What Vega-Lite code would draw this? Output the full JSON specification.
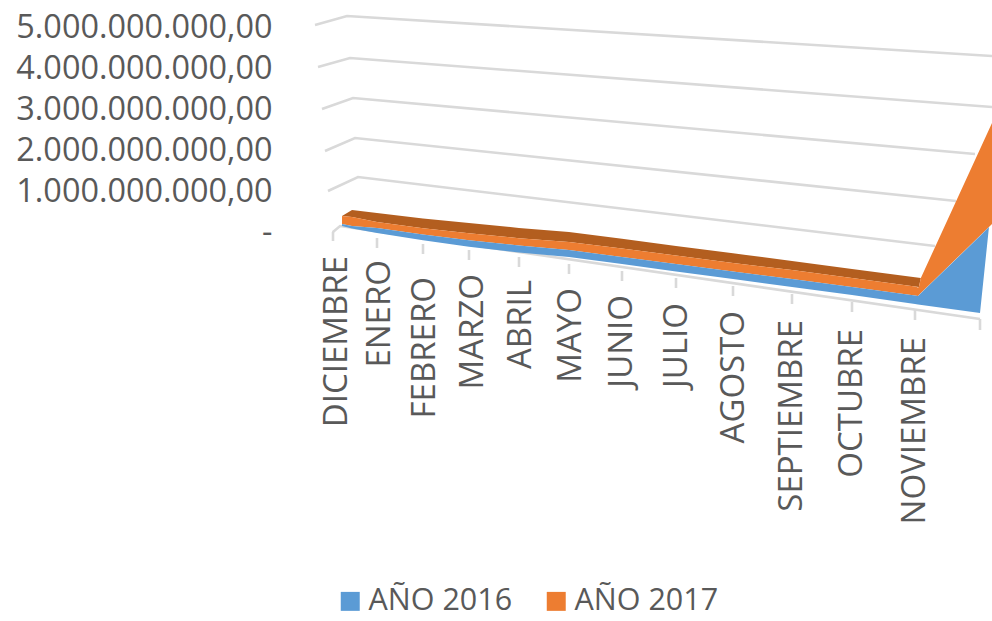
{
"$schema":"https://vega.github.io/schema/vega-lite/v6.json",
"width":712,"height":621,
"autosize":{"type":"none"},
"padding":{"left":280,"top":0,"right":0,"bottom":0},
"background":"white",
"config":{"view":{"stroke":null}},
"datasets":{
"grid":[
{"linea":"5","idx":-0.409,"tope":5.049},{"linea":"5","idx":0.318,"tope":5.268},{"linea":"5","idx":12.185,"tope":4.293},
{"linea":"4","idx":-0.341,"tope":4.024},{"linea":"4","idx":0.386,"tope":4.244},{"linea":"4","idx":12.185,"tope":3.049},
{"linea":"3","idx":-0.25,"tope":3.0},{"linea":"3","idx":0.455,"tope":3.268},{"linea":"3","idx":11.923,"tope":1.902},
{"linea":"2","idx":-0.182,"tope":1.976},{"linea":"2","idx":0.5,"tope":2.293},{"linea":"2","idx":11.631,"tope":0.756},
{"linea":"1","idx":-0.114,"tope":1.0},{"linea":"1","idx":0.568,"tope":1.341},{"linea":"1","idx":11.308,"tope":-0.341},
{"linea":"0","idx":-0.02,"tope":0.0},{"linea":"0","idx":0.16,"tope":0.146},{"linea":"0","idx":0.0,"tope":0.0},{"linea":"0","idx":12,"tope":-2.122}
],
"ticks":[
{"idx":0,"tope":0,"base":-0.22},{"idx":1,"tope":-0.146,"base":-0.39},{"idx":2,"tope":-0.293,"base":-0.537},{"idx":3,"tope":-0.439,"base":-0.683},{"idx":4,"tope":-0.61,"base":-0.854},{"idx":5,"tope":-0.78,"base":-1.024},{"idx":6,"tope":-0.951,"base":-1.195},{"idx":7,"tope":-1.122,"base":-1.366},{"idx":8,"tope":-1.317,"base":-1.561},{"idx":9,"tope":-1.512,"base":-1.756},{"idx":10,"tope":-1.707,"base":-1.951},{"idx":11,"tope":-1.902,"base":-2.146},{"idx":12,"tope":-2.122,"base":-2.39}
],
"cara":[
{"idx":0.205,"tope":0.39,"base":0.39},{"idx":0.432,"tope":0.537,"base":0.366},{"idx":1,"tope":0.463,"base":0.244},{"idx":2,"tope":0.33,"base":0.09},{"idx":3,"tope":0.22,"base":-0.03},{"idx":4,"tope":0.1,"base":-0.15},{"idx":5,"tope":0,"base":-0.241},{"idx":6,"tope":-0.166,"base":-0.405},{"idx":7,"tope":-0.341,"base":-0.576},{"idx":8,"tope":-0.52,"base":-0.756},{"idx":9,"tope":-0.707,"base":-0.927},{"idx":10,"tope":-0.902,"base":-1.122},{"idx":11,"tope":-1.105,"base":-1.329},{"idx":11.06,"tope":-1.115,"base":-1.341},{"idx":11.09,"tope":-1.122,"base":-1.122}
],
"series":[
{"serie":"AÑO 2017","idx":0.205,"tope":0.39,"base":0.195},{"serie":"AÑO 2017","idx":0.432,"tope":0.366,"base":0.146},{"serie":"AÑO 2017","idx":1,"tope":0.244,"base":0.098},{"serie":"AÑO 2017","idx":2,"tope":0.09,"base":-0.06},{"serie":"AÑO 2017","idx":3,"tope":-0.03,"base":-0.2},{"serie":"AÑO 2017","idx":4,"tope":-0.15,"base":-0.33},{"serie":"AÑO 2017","idx":5,"tope":-0.241,"base":-0.439},{"serie":"AÑO 2017","idx":6,"tope":-0.405,"base":-0.61},{"serie":"AÑO 2017","idx":7,"tope":-0.576,"base":-0.78},{"serie":"AÑO 2017","idx":8,"tope":-0.756,"base":-0.963},{"serie":"AÑO 2017","idx":9,"tope":-0.927,"base":-1.146},{"serie":"AÑO 2017","idx":10,"tope":-1.122,"base":-1.341},{"serie":"AÑO 2017","idx":11,"tope":-1.329,"base":-1.551},{"serie":"AÑO 2017","idx":11.046,"tope":-1.354,"base":-1.561},{"serie":"AÑO 2017","idx":11.06,"tope":-1.341,"base":-1.537},{"serie":"AÑO 2017","idx":11.09,"tope":-1.122,"base":-1.488},{"serie":"AÑO 2017","idx":12.185,"tope":2.659,"base":0.195},
{"serie":"AÑO 2016","idx":0.205,"tope":0.195,"base":0.146},{"serie":"AÑO 2016","idx":0.432,"tope":0.146,"base":0.085},{"serie":"AÑO 2016","idx":1,"tope":0.098,"base":-0.024},{"serie":"AÑO 2016","idx":2,"tope":-0.06,"base":-0.2},{"serie":"AÑO 2016","idx":3,"tope":-0.2,"base":-0.36},{"serie":"AÑO 2016","idx":4,"tope":-0.33,"base":-0.5},{"serie":"AÑO 2016","idx":5,"tope":-0.439,"base":-0.61},{"serie":"AÑO 2016","idx":6,"tope":-0.61,"base":-0.78},{"serie":"AÑO 2016","idx":7,"tope":-0.78,"base":-0.963},{"serie":"AÑO 2016","idx":8,"tope":-0.963,"base":-1.146},{"serie":"AÑO 2016","idx":9,"tope":-1.146,"base":-1.341},{"serie":"AÑO 2016","idx":10,"tope":-1.341,"base":-1.537},{"serie":"AÑO 2016","idx":11,"tope":-1.551,"base":-1.756},{"serie":"AÑO 2016","idx":11.046,"tope":-1.561,"base":-1.771},{"serie":"AÑO 2016","idx":12,"tope":-0.098,"base":-1.976},{"serie":"AÑO 2016","idx":12.138,"tope":0.122,"base":0.122}
],
"meses":[
{"mes":"DICIEMBRE","idx":0.09,"tope":-0.585},{"mes":"ENERO","idx":1.065,"tope":-0.683},{"mes":"FEBRERO","idx":2.04,"tope":-1.098},{"mes":"MARZO","idx":3.08,"tope":-1.024},{"mes":"ABRIL","idx":4.04,"tope":-1.171},{"mes":"MAYO","idx":5.04,"tope":-1.366},{"mes":"JUNIO","idx":6,"tope":-1.537},{"mes":"JULIO","idx":7.02,"tope":-1.732},{"mes":"AGOSTO","idx":8.02,"tope":-1.927},{"mes":"SEPTIEMBRE","idx":9,"tope":-2.146},{"mes":"OCTUBRE","idx":10,"tope":-2.366},{"mes":"NOVIEMBRE","idx":11,"tope":-2.561}
]
},
"encoding":{
"x":{"field":"idx","type":"quantitative","axis":null,"scale":{"domain":[-1,0,1,2,3,4,5,6,7,8,9,10,11,12,13],"range":[9,53,97,143,189,239,289,342,396,453,512,572,635,700,765],"clamp":false}},
"y":{"field":"tope","type":"quantitative","title":null,"scale":{"domain":[-9.488,5.659],"nice":false,"zero":false},
"axis":{"values":[0,1,2,3,4,5],"domain":false,"ticks":false,"grid":false,"labelPadding":8,"labelLimit":400,"labelFont":"Open Sans","labelFontSize":32.4,"labelColor":"#595959","labelExpr":"datum.value==0?'-\u00a0\u00a0':format(datum.value,'d')+'.000.000.000,00'"}}
},
"layer":[
{"data":{"name":"grid"},"mark":{"type":"line","color":"#D9D9D9","strokeWidth":2.6},"encoding":{"detail":{"field":"linea"},"order":{"field":"idx"}}},
{"data":{"name":"ticks"},"mark":{"type":"rule","color":"#D9D9D9","strokeWidth":2.6},"encoding":{"y2":{"field":"base"}}},
{"data":{"name":"cara"},"mark":{"type":"area","color":"#B35E1F","interpolate":"linear"},"encoding":{"y2":{"field":"base"}}},
{"data":{"name":"series"},"mark":{"type":"area","interpolate":"linear"},"transform":[{"filter":"datum.serie=='AÑO 2017'"}],"encoding":{"y2":{"field":"base"},"color":{"field":"serie","type":"nominal","scale":{"domain":["AÑO 2016","AÑO 2017"],"range":["#5B9BD5","#ED7D31"]},
"legend":{"title":null,"orient":"none","legendX":55,"legendY":586,"direction":"horizontal","symbolType":"square","symbolSize":360,"labelFont":"Open Sans","labelFontSize":30.5,"labelColor":"#595959","columns":2,"symbolStrokeWidth":0,"labelOffset":3,"columnPadding":28,"padding":0}}}},
{"data":{"name":"series"},"mark":{"type":"area","interpolate":"linear"},"transform":[{"filter":"datum.serie=='AÑO 2016'"}],"encoding":{"y2":{"field":"base"},"color":{"field":"serie","type":"nominal"}}},
{"data":{"name":"meses"},"mark":{"type":"text","angle":270,"align":"right","baseline":"middle","font":"Open Sans","fontSize":33,"color":"#595959"},"encoding":{"text":{"field":"mes"}}}
]
}
